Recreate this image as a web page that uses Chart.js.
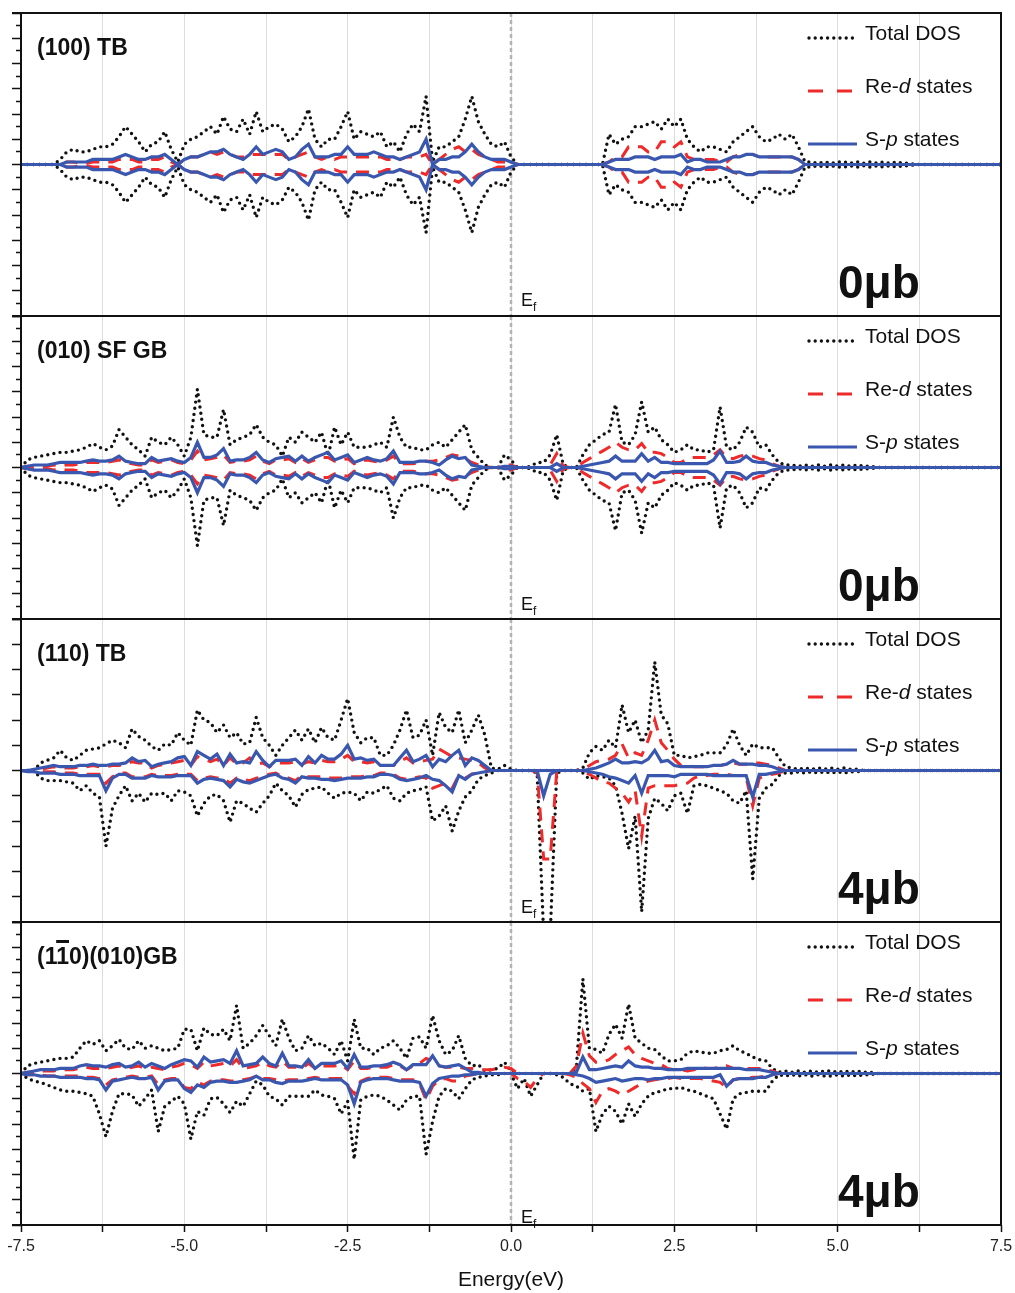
<!DOCTYPE html>
<html>
<head>
<meta charset="utf-8">
<title>Spin-polarised DOS of grain boundaries</title>
<script src="https://cdn.jsdelivr.net/npm/chart.js@4.4.1/dist/chart.umd.min.js"></script>
<style>
  body { margin: 0; background: #fff; }
  #page { position: relative; width: 1015px; height: 1293px; overflow: hidden;
          font-family: "Liberation Sans", Arial, sans-serif; color: #111; }
  .panel { position: absolute; left: 0; width: 1015px; }
  .panel canvas { position: absolute; left: 0; top: 0; }
  .tag { position: absolute; left: 37px; top: 27px; font-size: 23px; font-weight: bold;
         line-height: 1; white-space: nowrap; }
  .tag .bar { text-decoration: overline; text-decoration-thickness: 2.5px; }
  .moment { position: absolute; left: 838px; top: 250px; font-size: 46px; font-weight: bold;
            line-height: 1; white-space: nowrap; }
  .ef { position: absolute; left: 521px; font-size: 18px; line-height: 1; }
  .ef sub { font-size: 12px; vertical-align: -5px; line-height: 0; }
  .key { position: absolute; left: 865px; font-size: 21px; line-height: 1; white-space: nowrap; }
  .swatch { position: absolute; left: 806px; }
</style>
</head>
<body>
<div id="page"></div>
<script>
// energy grid of the DOS curves, eV (0.1 eV steps, -7.5 ... 7.5)
const energy = [];
for (let i = 0; i <= 150; i++) energy.push((i - 75) / 10);

// (100) TB, 0 μb : spin up and spin down are identical
const tot100 = [
  0,0,0,0,0,0,0.2,0.5,0.6,0.5,
  0.5,0.6,0.7,0.7,0.8,1.1,1.5,1.2,0.9,0.5,
  0.8,0.9,1.3,0.6,0.1,0.8,1.0,1.1,1.3,1.5,
  1.2,1.9,1.4,1.3,1.8,1.2,2.1,1.3,1.5,1.6,
  1.4,0.9,1.1,1.5,2.2,1.0,0.7,1.0,1.0,1.5,
  2.1,1.0,1.3,1.2,1.1,1.3,0.7,0.9,0.5,1.2,
  1.6,1.3,2.7,0.1,0.7,0.7,0.9,1.1,1.8,2.7,
  1.7,1.2,0.8,0.7,0.9,0.3,0,0,0,0,
  0,0,0,0,0,0,0,0,0,0,
  1.2,0.8,1.0,1.1,1.5,1.5,1.6,1.7,1.4,1.8,
  1.5,1.8,1.0,0.7,0.5,0.7,0.7,0.6,0.5,0.9,
  1.1,1.3,1.5,1.1,0.9,1.0,1.2,1.0,1.2,0.7,
  0.1,0.1,0.05,0.1,0.05,0.1,0.1,0.05,0.1,0.05,
  0.1,0.05,0.1,0.05,0.1,0.05,0.05,0,0,0,
  0,0,0,0,0,0,0,0,0,0,
  0];
const reD100 = [
  0,0,0,0,0,0,0,0.1,0.1,0.05,
  0.05,0.1,0.1,0.1,0.1,0.2,0.2,0.2,0.1,0.1,
  0.2,0.2,0.3,0.1,0,0.2,0.3,0.3,0.4,0.5,
  0.4,0.5,0.4,0.3,0.3,0.4,0.4,0.4,0.4,0.4,
  0.4,0.2,0.3,0.4,0.5,0.3,0.2,0.3,0.2,0.3,
  0.3,0.3,0.3,0.3,0.3,0.3,0.2,0.2,0.2,0.3,
  0.3,0.3,0.4,0,0.2,0.4,0.6,0.7,0.5,0.6,
  0.4,0.3,0.2,0.1,0.1,0.1,0,0,0,0,
  0,0,0,0,0,0,0,0,0,0,
  0.1,0.3,0.3,0.7,0.7,0.7,0.5,0.5,0.9,0.9,
  0.7,0.9,0.3,0.2,0.2,0.2,0.2,0.1,0.1,0.3,
  0.4,0.4,0.4,0.3,0.3,0.3,0.3,0.3,0.3,0.2,
  0,0,0,0,0,0,0,0,0,0,
  0,0,0,0,0,0,0,0,0,0,
  0,0,0,0,0,0,0,0,0,0,
  0];
const sP100 = [
  0,0,0,0,0,0,0,0.1,0.1,0.1,
  0.1,0.2,0.2,0.2,0.2,0.3,0.4,0.3,0.2,0.2,
  0.3,0.3,0.4,0.2,0,0.2,0.3,0.3,0.4,0.5,
  0.5,0.6,0.4,0.3,0.2,0.4,0.7,0.4,0.5,0.6,
  0.5,0.2,0.3,0.6,0.8,0.3,0.3,0.3,0.4,0.4,
  0.7,0.4,0.4,0.4,0.5,0.4,0.3,0.3,0.2,0.3,
  0.4,0.5,1.0,0,0.2,0.2,0.3,0.3,0.5,0.8,
  0.5,0.3,0.2,0.2,0.2,0.1,0,0,0,0,
  0,0,0,0,0,0,0,0,0,0,
  0.1,0.2,0.2,0.2,0.3,0.3,0.3,0.2,0.3,0.3,
  0.3,0.4,0.1,0.2,0.2,0.1,0.1,0.1,0.2,0.3,
  0.3,0.4,0.4,0.3,0.3,0.3,0.3,0.3,0.3,0.2,
  0,0,0,0,0,0,0,0,0,0,
  0,0,0,0,0,0,0,0,0,0,
  0,0,0,0,0,0,0,0,0,0,
  0];

// (010) SF GB, 0 μb : spin up and spin down are identical
const tot010 = [
  0,0.3,0.4,0.45,0.5,0.55,0.6,0.6,0.65,0.7,
  0.8,0.95,0.8,0.7,0.85,1.5,1.2,0.9,0.7,0.45,
  1.2,1.0,0.9,1.2,0.9,0.45,1.2,3.1,1.3,1.2,
  1.2,2.3,0.9,1.1,1.2,1.3,1.7,1.2,1.0,0.9,
  0.45,1.2,1.0,1.4,1.2,1.0,1.4,0.45,1.6,0.9,
  1.4,0.8,0.8,0.8,0.9,1.0,0.8,2.0,1.2,0.8,
  0.8,0.7,0.7,0.9,1.0,0.8,1.1,1.4,1.7,0.7,
  0.4,0.1,0,0,0.5,0.3,0,0,0.05,0.2,
  0.2,0.5,1.3,0.1,0,0,0.5,0.9,1.1,1.3,
  1.4,2.5,1.0,0.9,1.3,2.6,1.4,1.6,1.1,0.9,
  0.6,0.7,0.9,0.7,0.7,0.6,0.7,2.4,0.8,0.7,
  1.0,1.6,1.4,0.8,0.9,0.5,0.2,0.1,0.1,0.05,
  0.1,0.05,0.1,0.05,0.1,0.05,0.1,0.05,0.1,0.05,
  0.05,0,0,0,0,0,0,0,0,0,
  0,0,0,0,0,0,0,0,0,0,
  0];
const reD010 = [
  0,0.05,0.05,0.05,0.05,0.1,0.05,0.1,0.1,0.15,
  0.2,0.2,0.2,0.2,0.25,0.3,0.2,0.15,0.1,0.1,
  0.3,0.2,0.25,0.3,0.2,0.15,0.3,0.65,0.3,0.35,
  0.4,0.5,0.2,0.25,0.25,0.3,0.45,0.25,0.15,0.3,
  0.3,0.35,0.2,0.35,0.2,0.3,0.4,0.4,0.25,0.3,
  0.35,0.15,0.25,0.3,0.25,0.2,0.3,0.45,0.15,0.15,
  0.15,0.2,0.25,0.25,0.3,0.4,0.5,0.45,0.35,0.2,
  0.1,0.05,0,0,0.1,0.1,0,0,0,0,
  0,0.1,0.55,0.05,0,0,0.2,0.35,0.5,0.65,
  0.8,1.0,0.8,0.7,0.7,0.95,0.6,0.6,0.55,0.4,
  0.2,0.2,0.35,0.4,0.4,0.4,0.5,0.7,0.4,0.35,
  0.45,0.5,0.45,0.35,0.3,0.15,0.05,0,0,0,
  0,0,0,0,0,0,0,0,0,0,
  0,0,0,0,0,0,0,0,0,0,
  0,0,0,0,0,0,0,0,0,0,
  0];
const sP010 = [
  0,0.05,0.1,0.1,0.1,0.15,0.2,0.2,0.2,0.2,
  0.25,0.3,0.25,0.25,0.3,0.45,0.25,0.2,0.15,0.15,
  0.4,0.25,0.3,0.35,0.25,0.2,0.4,1.0,0.4,0.4,
  0.5,0.75,0.25,0.3,0.3,0.4,0.6,0.3,0.2,0.35,
  0.4,0.45,0.25,0.45,0.25,0.4,0.5,0.6,0.3,0.4,
  0.5,0.2,0.3,0.4,0.3,0.25,0.35,0.65,0.2,0.2,
  0.2,0.25,0.25,0.2,0.1,0.3,0.45,0.35,0.4,0.1,
  0.05,0,0,0,0.05,0.05,0,0,0,0,
  0,0,0.15,0,0,0,0.05,0.1,0.15,0.2,
  0.25,0.45,0.25,0.25,0.25,0.55,0.25,0.4,0.2,0.2,
  0.15,0.15,0.15,0.15,0.15,0.15,0.3,0.65,0.2,0.2,
  0.25,0.45,0.25,0.2,0.2,0.1,0.05,0,0,0,
  0,0,0,0,0,0,0,0,0,0,
  0,0,0,0,0,0,0,0,0,0,
  0,0,0,0,0,0,0,0,0,0,
  0];

// (110) TB, 4 μb
const tot110Up = [
  0,0,0,0.3,0.4,0.5,0.8,0.5,0.4,0.6,
  0.8,0.85,0.9,1.05,1.2,1.1,0.9,1.65,1.35,1.2,
  0.95,0.8,1.05,1.0,1.5,1.2,1.0,2.4,2.0,1.9,
  1.5,1.8,1.3,1.5,1.05,1.1,2.1,1.3,1.0,0.6,
  1.0,1.3,1.6,1.2,1.65,1.1,1.7,1.3,1.2,2.0,
  2.85,1.5,1.1,1.3,1.3,0.6,0.6,1.0,1.6,2.4,
  1.3,1.4,2.0,0.6,2.3,1.7,1.5,2.4,1.1,1.6,
  2.2,1.4,0.1,0.05,0.2,0.05,0,0,0,0,
  0,0,0,0,0,0,0.1,0.7,0.95,0.8,
  1.2,0.9,2.6,1.5,2.0,1.1,1.6,4.3,2.2,1.85,
  0.6,0.6,0.5,0.55,0.6,0.7,0.7,0.7,1.0,1.65,
  1.0,0.6,1.05,0.9,0.9,0.9,0.5,0.15,0.1,0.05,
  0.1,0.05,0.1,0.05,0.1,0.05,0.1,0.05,0.05,0,
  0,0,0,0,0,0,0,0,0,0,
  0,0,0,0,0,0,0,0,0,0,
  0];
const tot110Dn = [
  0,0,0,0.3,0.4,0.4,0.4,0.45,0.5,0.8,
  0.6,0.9,1.05,3.0,1.5,1.0,0.6,1.2,0.9,1.25,
  0.9,0.95,0.9,1.2,0.8,0.85,1.0,1.8,1.3,1.0,
  0.95,1.2,2.05,1.2,1.3,1.5,1.65,1.3,1.0,0.5,
  0.8,1.0,1.45,0.95,0.75,0.7,0.65,0.9,1.1,0.9,
  0.85,0.9,1.2,0.85,0.9,0.75,0.6,1.1,1.2,0.9,
  0.8,0.75,0.65,2.0,1.8,1.4,2.4,1.6,1.05,0.8,
  0.35,0.2,0.1,0,0,0,0,0,0,0.1,
  6.5,6.5,0.1,0,0,0,0.1,0.35,0.2,0.25,
  0.3,0.6,1.7,3.1,1.8,5.6,1.9,1.1,1.3,1.6,
  1.0,0.9,1.7,0.6,0.55,0.6,0.7,0.8,0.9,1.2,
  1.3,0.8,4.3,1.1,0.7,0.55,0.2,0.1,0.1,0.05,
  0.1,0.05,0.1,0.05,0.1,0.05,0.1,0.05,0.05,0,
  0,0,0,0,0,0,0,0,0,0,
  0,0,0,0,0,0,0,0,0,0,
  0];
const reD110Up = [
  0,0,0,0.05,0.1,0.15,0.1,0.1,0.1,0.15,
  0.15,0.2,0.15,0.15,0.2,0.2,0.25,0.35,0.3,0.3,
  0.1,0.2,0.25,0.3,0.35,0.4,0.2,0.55,0.45,0.35,
  0.45,0.2,0.5,0.25,0.3,0.5,0.25,0.3,0.15,0.3,
  0.3,0.3,0.35,0.25,0.35,0.3,0.4,0.35,0.35,0.45,
  0.6,0.35,0.35,0.3,0.35,0.2,0.2,0.2,0.35,0.5,
  0.3,0.35,0.4,0.45,0.85,0.7,0.55,0.5,0.45,0.4,
  0.3,0.1,0,0,0,0,0,0,0,0,
  0,0,0,0,0,0,0.05,0.2,0.35,0.4,
  0.45,0.6,1.05,0.5,0.7,0.6,1.2,2.0,1.1,0.8,
  0.45,0.2,0.2,0.15,0.15,0.15,0.2,0.2,0.25,0.3,
  0.25,0.25,0.3,0.3,0.25,0.2,0.1,0,0,0,
  0,0,0,0,0,0,0,0,0,0,
  0,0,0,0,0,0,0,0,0,0,
  0,0,0,0,0,0,0,0,0,0,
  0];
const reD110Dn = [
  0,0,0,0.05,0.05,0.05,0.1,0.1,0.1,0.15,
  0.15,0.15,0.15,0.5,0.25,0.1,0.1,0.25,0.25,0.25,
  0.15,0.2,0.2,0.2,0.15,0.15,0.15,0.4,0.3,0.25,
  0.3,0.3,0.5,0.3,0.35,0.4,0.3,0.25,0.15,0.1,
  0.25,0.3,0.4,0.2,0.25,0.25,0.25,0.3,0.3,0.3,
  0.25,0.25,0.25,0.2,0.2,0.1,0.1,0.15,0.3,0.35,
  0.3,0.25,0.3,0.7,0.6,0.5,0.7,0.2,0.3,0.15,
  0.1,0.05,0,0,0,0,0,0,0,0.05,
  3.5,3.5,0.05,0,0,0,0.05,0.15,0.3,0.45,
  0.5,0.7,0.9,1.25,0.8,2.6,0.7,0.6,0.6,0.6,
  0.6,0.55,0.5,0.3,0.2,0.2,0.15,0.15,0.15,0.2,
  0.2,0.3,1.4,0.3,0.2,0.15,0.1,0,0,0,
  0,0,0,0,0,0,0,0,0,0,
  0,0,0,0,0,0,0,0,0,0,
  0,0,0,0,0,0,0,0,0,0,
  0];
const sP110Up = [
  0,0,0.05,0.1,0.15,0.2,0.15,0.15,0.15,0.2,
  0.2,0.25,0.2,0.2,0.25,0.25,0.3,0.5,0.35,0.4,
  0.15,0.25,0.3,0.35,0.5,0.55,0.2,0.75,0.6,0.45,
  0.65,0.2,0.65,0.3,0.35,0.3,0.75,0.4,0.15,0.4,
  0.4,0.4,0.45,0.2,0.55,0.3,0.6,0.45,0.45,0.65,
  1.0,0.45,0.5,0.4,0.45,0.2,0.2,0.2,0.5,0.8,
  0.35,0.45,0.6,0.15,0.45,0.35,0.6,0.8,0.2,0.5,
  0.4,0.2,0,0,0,0,0,0,0,0,
  0,0,0,0,0,0,0,0.05,0.1,0.2,
  0.3,0.45,0.3,0.3,0.35,0.3,0.45,0.8,0.35,0.4,
  0.2,0.15,0.15,0.15,0.15,0.15,0.2,0.2,0.25,0.4,
  0.25,0.25,0.25,0.2,0.2,0.15,0.05,0,0,0,
  0,0,0,0,0,0,0,0,0,0,
  0,0,0,0,0,0,0,0,0,0,
  0,0,0,0,0,0,0,0,0,0,
  0];
const sP110Dn = [
  0,0.05,0.05,0.1,0.1,0.1,0.15,0.15,0.15,0.2,
  0.2,0.2,0.2,0.8,0.3,0.15,0.15,0.3,0.3,0.3,
  0.2,0.25,0.25,0.25,0.2,0.2,0.2,0.5,0.35,0.3,
  0.35,0.4,0.65,0.35,0.45,0.5,0.4,0.3,0.2,0.15,
  0.3,0.35,0.5,0.25,0.3,0.3,0.35,0.35,0.4,0.35,
  0.3,0.3,0.3,0.25,0.25,0.15,0.15,0.2,0.35,0.4,
  0.35,0.3,0.2,0.35,0.4,0.6,0.85,0.2,0.35,0.15,
  0.1,0.05,0,0,0,0,0,0,0,0,
  1.0,0.15,0,0,0,0,0,0.05,0.1,0.15,
  0.25,0.3,0.4,0.5,0.2,0.9,0.2,0.2,0.2,0.2,
  0.25,0.15,0.15,0.15,0.15,0.15,0.2,0.2,0.2,0.2,
  0.2,0.2,1.05,0.15,0.15,0.1,0.05,0,0,0,
  0,0,0,0,0,0,0,0,0,0,
  0,0,0,0,0,0,0,0,0,0,
  0,0,0,0,0,0,0,0,0,0,
  0];

// (1-10)(010) GB, 4 μb
const totGbUp = [
  0,0.3,0.4,0.45,0.5,0.55,0.6,0.6,0.65,1.0,
  1.3,1.15,1.3,0.9,1.1,1.35,1.0,0.95,1.3,1.0,
  1.1,1.0,0.9,0.95,1.0,1.75,1.75,0.9,1.8,1.55,
  1.5,1.75,1.3,2.7,1.0,1.2,1.5,1.9,1.5,1.1,
  2.15,1.4,0.9,1.0,1.5,1.1,1.2,1.0,0.75,1.3,
  0.5,2.15,1.0,1.0,0.75,1.0,1.1,1.3,1.0,0.6,
  1.4,1.45,1.0,2.3,1.3,0.75,0.9,1.5,0.6,0.3,
  0.35,0.1,0.15,0.2,0.45,0.1,0,0,0,0,
  0,0,0,0,0,0.25,3.75,1.0,0.95,0.8,
  1.55,1.95,1.4,2.75,1.4,1.2,1.0,0.95,0.7,0.5,
  0.5,0.55,0.8,0.9,0.85,0.8,0.8,0.9,0.95,1.1,
  0.9,0.8,0.65,0.55,0.5,0.2,0.05,0.1,0.05,0.1,
  0.05,0.1,0.05,0.1,0.1,0.05,0.1,0.05,0.1,0.05,
  0.05,0,0,0,0,0,0,0,0,0,
  0,0,0,0,0,0,0,0,0,0,
  0];
const totGbDn = [
  0,0.2,0.3,0.35,0.45,0.55,0.65,0.7,0.7,0.75,
  0.8,0.9,1.6,2.5,1.5,0.8,0.8,0.85,1.3,1.0,
  0.65,2.3,1.3,1.1,0.9,1.2,2.6,1.5,1.65,1.0,
  0.95,1.2,1.55,1.1,1.3,0.8,0.3,0.45,0.9,1.0,
  1.25,0.9,0.9,0.9,0.9,0.65,0.85,0.9,1.0,1.6,
  1.1,3.4,1.05,0.9,0.85,0.9,1.05,1.25,1.45,1.05,
  0.9,0.9,3.2,1.9,0.9,0.6,0.7,1.0,0.6,0.25,
  0.15,0.1,0.05,0.05,0,0,0.6,0.2,0.9,0.45,
  0,0,0.05,0.15,0.4,0.5,0.7,0.6,2.3,1.6,
  1.3,1.5,2.0,1.2,1.7,1.2,0.9,0.75,0.7,0.6,
  0.6,0.55,0.65,0.7,0.8,0.9,1.0,1.6,2.2,1.0,
  0.8,0.75,0.7,0.7,0.7,0.3,0.05,0.1,0.05,0.1,
  0.05,0.1,0.05,0.1,0.1,0.05,0.1,0.05,0.1,0.05,
  0.05,0,0,0,0,0,0,0,0,0,
  0,0,0,0,0,0,0,0,0,0,
  0];
const reDGbUp = [
  0,0.05,0.05,0.1,0.1,0.1,0.15,0.15,0.15,0.2,
  0.25,0.2,0.2,0.2,0.25,0.3,0.2,0.25,0.3,0.2,
  0.25,0.2,0.15,0.25,0.3,0.4,0.35,0.2,0.45,0.3,
  0.35,0.4,0.3,0.55,0.2,0.25,0.3,0.45,0.3,0.25,
  0.5,0.25,0.25,0.2,0.4,0.2,0.3,0.3,0.3,0.35,
  0.15,0.5,0.2,0.2,0.25,0.25,0.25,0.35,0.3,0.15,
  0.3,0.4,0.6,0.5,0.3,0.25,0.25,0.25,0.2,0.2,
  0.15,0.15,0.15,0.2,0.25,0.2,0,0,0,0,
  0,0,0,0,0,0.3,1.6,0.7,0.45,0.45,
  0.55,0.75,0.9,1.05,0.75,0.6,0.5,0.4,0.35,0.2,
  0.15,0.15,0.1,0.15,0.25,0.2,0.2,0.25,0.3,0.2,
  0.2,0.2,0.2,0.2,0.15,0.1,0,0,0,0,
  0,0,0,0,0,0,0,0,0,0,
  0,0,0,0,0,0,0,0,0,0,
  0,0,0,0,0,0,0,0,0,0,
  0];
const reDGbDn = [
  0,0.05,0.05,0.05,0.1,0.1,0.1,0.1,0.1,0.1,
  0.15,0.15,0.2,0.45,0.25,0.2,0.15,0.1,0.15,0.15,
  0.1,0.45,0.25,0.2,0.2,0.55,0.6,0.35,0.45,0.3,
  0.25,0.25,0.3,0.3,0.25,0.2,0.1,0.2,0.2,0.25,
  0.3,0.25,0.25,0.25,0.2,0.15,0.2,0.2,0.2,0.2,
  0.5,0.8,0.3,0.2,0.15,0.15,0.15,0.2,0.25,0.25,
  0.25,0.4,1.05,0.5,0.25,0.2,0.3,0.3,0.1,0.05,
  0,0,0,0,0,0,0.2,0.3,0.55,0.2,
  0,0,0,0,0.05,0.15,0.4,0.6,1.15,0.7,
  0.6,0.7,0.85,0.7,0.55,0.4,0.3,0.25,0.2,0.2,
  0.15,0.2,0.2,0.2,0.2,0.25,0.3,0.35,0.55,0.25,
  0.2,0.2,0.15,0.15,0.1,0.05,0,0,0,0,
  0,0,0,0,0,0,0,0,0,0,
  0,0,0,0,0,0,0,0,0,0,
  0,0,0,0,0,0,0,0,0,0,
  0];
const sPGbUp = [
  0,0.05,0.1,0.15,0.15,0.15,0.2,0.2,0.2,0.3,
  0.35,0.3,0.3,0.25,0.35,0.4,0.25,0.3,0.45,0.25,
  0.4,0.3,0.2,0.35,0.45,0.55,0.5,0.25,0.65,0.45,
  0.5,0.55,0.4,0.9,0.3,0.35,0.4,0.65,0.4,0.3,
  0.8,0.3,0.3,0.25,0.55,0.2,0.4,0.4,0.4,0.5,
  0.2,0.75,0.25,0.25,0.3,0.3,0.35,0.45,0.35,0.15,
  0.35,0.35,0.35,0.7,0.3,0.25,0.3,0.35,0.2,0.05,
  0.05,0,0,0,0,0,0,0,0,0,
  0,0,0,0,0,0.05,0.65,0.15,0.15,0.2,
  0.25,0.3,0.25,0.5,0.3,0.25,0.25,0.2,0.2,0.15,
  0.15,0.15,0.2,0.2,0.2,0.2,0.2,0.2,0.2,0.2,
  0.2,0.15,0.15,0.15,0.1,0.05,0,0,0,0,
  0,0,0,0,0,0,0,0,0,0,
  0,0,0,0,0,0,0,0,0,0,
  0,0,0,0,0,0,0,0,0,0,
  0];
const sPGbDn = [
  0,0.05,0.05,0.1,0.1,0.1,0.15,0.15,0.15,0.15,
  0.2,0.2,0.25,0.65,0.3,0.25,0.2,0.15,0.2,0.2,
  0.15,0.65,0.3,0.25,0.25,0.6,0.75,0.45,0.55,0.35,
  0.3,0.3,0.35,0.35,0.3,0.25,0.1,0.25,0.25,0.35,
  0.4,0.3,0.3,0.3,0.25,0.2,0.25,0.25,0.25,0.25,
  0.45,1.2,0.35,0.25,0.2,0.2,0.2,0.25,0.3,0.3,
  0.3,0.35,0.9,0.4,0.2,0.15,0.1,0.1,0.05,0.05,
  0,0,0,0,0,0,0,0,0,0,
  0,0,0,0,0,0.05,0.1,0.2,0.35,0.3,
  0.25,0.2,0.3,0.25,0.2,0.2,0.25,0.2,0.2,0.15,
  0.15,0.15,0.15,0.15,0.15,0.15,0.15,0.05,0.5,0.25,
  0.2,0.2,0.2,0.15,0.15,0.05,0,0,0,0,
  0,0,0,0,0,0,0,0,0,0,
  0,0,0,0,0,0,0,0,0,0,
  0,0,0,0,0,0,0,0,0,0,
  0];

// drawing order: first entry ends up on top
const series = [
  { label: 'S-p states', color: '#3a57b0', dash: [], width: 3.2 },
  { label: 'Re-d states', color: '#ee2a2a', dash: [13, 9], width: 3 },
  { label: 'Total DOS', color: '#111111', dash: [0, 6.2], width: 3.4, cap: 'round' }
];

const panels = [
  { top: 13, tag: '(100) TB', moment: '0μb', efTop: 282, minor: true,
    up: [sP100, reD100, tot100], down: [sP100, reD100, tot100] },
  { top: 316, tag: '(010) SF GB', moment: '0μb', efTop: 283, minor: true,
    up: [sP010, reD010, tot010], down: [sP010, reD010, tot010] },
  { top: 619, tag: '(110) TB', moment: '4μb', efTop: 283, minor: false,
    up: [sP110Up, reD110Up, tot110Up], down: [sP110Dn, reD110Dn, tot110Dn] },
  { top: 922, tag: '(1<span class="bar">1</span>0)(010)GB', moment: '4μb', efTop: 290, minor: true,
    up: [sPGbUp, reDGbUp, totGbUp], down: [sPGbDn, reDGbDn, totGbDn] }
];

const PAD = 4, AREA_H = 303, PAGE_H = 1293;

// frame around each panel plus the dashed Fermi level
const frame = {
  id: 'frame',
  beforeDatasetsDraw(chart) {
    const { ctx, chartArea: a, scales: { x } } = chart;
    const px = x.getPixelForValue(0);
    ctx.save();
    ctx.strokeStyle = '#b3b3b3';
    ctx.lineWidth = 2.5;
    ctx.setLineDash([4, 3]);
    ctx.beginPath();
    ctx.moveTo(px, a.top);
    ctx.lineTo(px, a.bottom);
    ctx.stroke();
    ctx.restore();
  },
  afterDraw(chart) {
    const { ctx, chartArea: a } = chart;
    ctx.save();
    ctx.strokeStyle = '#111';
    ctx.lineWidth = 2;
    ctx.strokeRect(a.left, a.top, a.right - a.left, a.bottom - a.top);
    // horizontal panel rules run out over the tick marks
    ctx.beginPath();
    ctx.moveTo(a.left - 9, a.top);
    ctx.lineTo(a.left, a.top);
    ctx.moveTo(a.left - 9, a.bottom);
    ctx.lineTo(a.left, a.bottom);
    ctx.stroke();
    ctx.restore();
  }
};

function swatch(s) {
  const dash = s.dash.length ? s.dash.join(' ') : 'none';
  return '<svg width="54" height="8"><line x1="' + (s.cap ? 3 : 2) + '" y1="4" x2="51" y2="4" stroke="' +
    s.color + '" stroke-width="' + s.width + '" stroke-dasharray="' +
    (s.label === 'Re-d states' ? '15 14' : dash) + '" stroke-linecap="' + (s.cap || 'butt') + '"/></svg>';
}

const keyText = {
  'Total DOS': 'Total DOS',
  'Re-d states': 'Re-<i>d</i> states',
  'S-p states': 'S-<i>p</i> states'
};
const keyOrder = [2, 1, 0];
const keyCentres = [23, 76, 129];

const page = document.getElementById('page');

panels.forEach((p, idx) => {
  const last = idx === panels.length - 1;
  const boxTop = p.top - PAD;
  const boxH = last ? PAGE_H - boxTop : AREA_H + 2 * PAD;

  const box = document.createElement('div');
  box.className = 'panel';
  box.style.top = boxTop + 'px';
  box.style.height = boxH + 'px';
  const canvas = document.createElement('canvas');
  canvas.width = 1015;
  canvas.height = boxH;
  box.appendChild(canvas);

  let html = '<div class="tag">' + p.tag + '</div>' +
    '<div class="moment">' + p.moment + '</div>' +
    '<div class="ef" style="top:' + p.efTop + 'px">E<sub>f</sub></div>';
  keyOrder.forEach((k, r) => {
    const s = series[k];
    html += '<div class="swatch" style="top:' + (keyCentres[r] - 4) + 'px">' + swatch(s) + '</div>' +
      '<div class="key" style="top:' + (keyCentres[r] - 10.3) + 'px">' + keyText[s.label] + '</div>';
  });
  box.insertAdjacentHTML('beforeend', html);
  page.appendChild(box);

  const datasets = [];
  series.forEach((s, k) => {
    const base = { label: s.label, borderColor: s.color, borderWidth: s.width, borderDash: s.dash,
      borderCapStyle: s.cap || 'butt', pointRadius: 0, tension: 0, fill: false };
    datasets.push(Object.assign({}, base, {
      data: energy.map((e, i) => ({ x: e, y: p.up[k][i] })) }));
    datasets.push(Object.assign({}, base, {
      data: energy.map((e, i) => ({ x: e, y: -p.down[k][i] })) }));
  });

  new Chart(canvas, {
    type: 'line',
    data: { datasets },
    options: {
      responsive: false,
      animation: false,
      devicePixelRatio: 1,
      events: [],
      layout: { padding: { top: PAD, bottom: last ? 0 : PAD, left: 0, right: 14 } },
      plugins: { legend: { display: false }, tooltip: { enabled: false } },
      scales: {
        x: {
          type: 'linear', min: -7.5, max: 7.5,
          ticks: {
            display: last, stepSize: 1.25, autoSkip: false, maxRotation: 0, padding: 5,
            color: '#222', font: { family: '"Liberation Sans", Arial, sans-serif', size: 16 },
            callback: v => (Math.abs(v / 2.5 - Math.round(v / 2.5)) < 1e-6 ? v.toFixed(1) : '')
          },
          grid: { color: '#dcdcdc', lineWidth: 1, drawTicks: last, tickLength: 7,
                  tickColor: '#111', tickWidth: 1.5 },
          border: { display: false },
          title: { display: last, text: 'Energy(eV)', color: '#111',
                   font: { family: '"Liberation Sans", Arial, sans-serif', size: 21 },
                   padding: { top: 4, bottom: 0 } },
          afterFit: s => {
            s.height = last ? boxH - PAD - AREA_H : 0;
            s.paddingLeft = 0;
            s.paddingRight = 0;
          }
        },
        y: {
          min: -6, max: 6,
          ticks: { display: false, stepSize: p.minor ? 0.5 : 1 },
          grid: {
            drawOnChartArea: false, drawTicks: true, tickLength: 9, tickColor: '#111', tickWidth: 1.5,
            tickBorderDash: c => (c.tick && !Number.isInteger(c.tick.value) ? [0, 4, 5, 20] : [])
          },
          border: { display: false },
          afterFit: s => { s.width = 21; }
        }
      }
    },
    plugins: [frame]
  });
});
</script>
</body>
</html>
